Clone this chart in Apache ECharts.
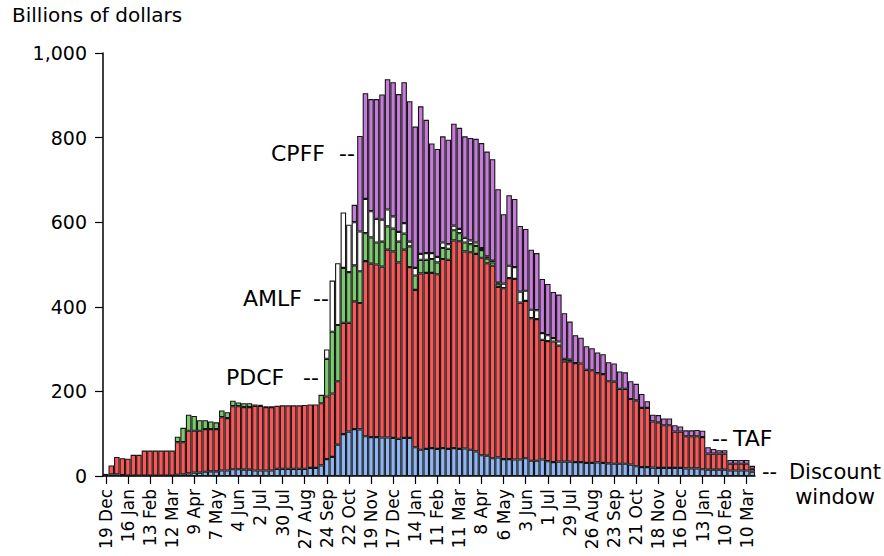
<!DOCTYPE html>
<html>
<head>
<meta charset="utf-8">
<script src="https://cdn.jsdelivr.net/npm/echarts@6/dist/echarts.min.js"></script>
<style>
html,body{margin:0;padding:0;background:#fff;}
#chart{width:884px;height:556px;}
</style>
</head>
<body>
<div id="chart"></div>
<script>
var categories = [
'19 Dec','26 Dec',
'2 Jan','9 Jan','16 Jan','23 Jan','30 Jan','6 Feb','13 Feb','20 Feb','27 Feb','5 Mar','12 Mar','19 Mar','26 Mar',
'2 Apr','9 Apr','16 Apr','23 Apr','30 Apr','7 May','14 May','21 May','28 May','4 Jun','11 Jun','18 Jun','25 Jun',
'2 Jul','9 Jul','16 Jul','23 Jul','30 Jul','6 Aug','13 Aug','20 Aug','27 Aug','3 Sep','10 Sep','17 Sep','24 Sep',
'1 Oct','8 Oct','15 Oct','22 Oct','29 Oct','5 Nov','12 Nov','19 Nov','26 Nov','3 Dec','10 Dec','17 Dec','24 Dec','31 Dec',
'7 Jan','14 Jan','21 Jan','28 Jan','4 Feb','11 Feb','18 Feb','25 Feb','4 Mar','11 Mar','18 Mar','25 Mar',
'1 Apr','8 Apr','15 Apr','22 Apr','29 Apr','6 May','13 May','20 May','27 May','3 Jun','10 Jun','17 Jun','24 Jun',
'1 Jul','8 Jul','15 Jul','22 Jul','29 Jul','5 Aug','12 Aug','19 Aug','26 Aug','2 Sep','9 Sep','16 Sep','23 Sep','30 Sep',
'7 Oct','14 Oct','21 Oct','28 Oct','4 Nov','11 Nov','18 Nov','25 Nov','2 Dec','9 Dec','16 Dec','23 Dec','30 Dec',
'6 Jan','13 Jan','20 Jan','27 Jan','3 Feb','10 Feb','17 Feb','24 Feb','3 Mar','10 Mar','17 Mar'
];

var discountWindow = [
5,4,4,2,1,1,1,1,1,1,1,1,1,3,4,6,8,8,10,11,11,13,13,16,16,15,15,13,13,13,13,17,17,17,17,17,17,19,19,25,
40,45,74,99,105,111,110,94,92,92,91,91,90,88,90,90,68,62,64,66,64,66,64,66,64,65,62,58,49,48,
42,44,40,40,39,39,42,36,36,39,35,33,34,34,34,33,33,31,31,32,31,30,29,29,29,27,23,21,21,20,
19,19,19,19,19,18,18,18,16,15,15,15,15,13,13,13,13,10
];

var taf = [
null,21,41,40,40,49,49,59,59,59,59,59,59,77,76,101,99,99,101,100,100,126,124,149,149,148,148,153,153,150,150,149,150,150,150,150,151,150,150,147,
148,150,150,263,257,302,299,414,410,408,404,444,441,417,445,404,372,417,416,414,413,447,447,491,491,466,467,467,467,455,
455,403,404,428,427,371,372,337,335,283,284,285,274,237,237,234,233,220,219,211,210,194,194,177,177,155,156,140,140,109,
108,101,101,86,86,76,76,76,76,38,38,38,38,16,16,16,16,7
];

var pdcf = [
null,null,null,null,null,null,null,null,null,null,null,null,null,13,34,38,35,25,21,18,16,16,14,13,9,9,9,3,2,1,1,null,null,null,null,null,null,null,null,20,
89,146,133,130,120,85,75,66,62,52,59,55,54,49,38,49,34,32,31,33,28,26,26,24,19,21,19,19,18,11,
8,8,null,null,null,null,null,null,null,null,null,null,null,null,null,null,null,null,null,null,null,null,null,null,null,null,null,null,null,null,
null,null,null,null,null,null,null,null,null,null,null,null,null,null,null,null,null,null
];

var amlf = [
null,null,null,null,null,null,null,null,null,null,null,null,null,null,null,null,null,null,null,null,null,null,null,null,null,null,null,null,null,null,null,null,null,null,null,null,null,null,null,null,
22,121,146,131,112,102,94,81,62,56,52,40,29,23,25,11,18,14,16,14,13,13,11,11,10,11,9,8,5,5,
4,2,11,29,28,26,24,20,21,16,14,8,10,6,4,null,null,null,null,null,null,null,null,null,null,null,null,null,null,null,
null,null,null,null,null,null,null,null,null,null,null,null,null,null,null,null,null,null
];

var cpff = [
null,null,null,null,null,null,null,null,null,null,null,null,null,null,null,null,null,null,null,null,null,null,null,null,null,null,null,null,null,null,null,null,null,null,null,null,null,null,null,null,
null,null,null,null,null,41,226,250,265,283,296,308,317,326,333,332,334,349,315,259,255,251,247,241,239,240,242,245,248,248,
240,221,164,167,161,155,146,142,135,128,121,109,111,108,90,66,61,56,52,49,47,45,43,41,39,42,39,33,16,16,
17,16,16,15,12,14,14,15,15,15,11,8,8,9,9,9,9,7
];

var yTicks = [0, 200, 400, 600, 800, 1000];

var FONT = 'DejaVu Sans';
var chart = echarts.init(document.getElementById('chart'), null, {renderer: 'svg'});

function barSeries(name, data, color) {
  return {
    name: name,
    type: 'bar',
    stack: 'total',
    data: data,
    barCategoryGap: '0%',
    itemStyle: {color: color, borderColor: '#151515', borderWidth: 1.1},
    emphasis: {disabled: true}
  };
}

function label(text, x, y, size, align) {
  return {type: 'text', x: x, y: y, silent: true,
    style: {text: text, font: size + 'px "DejaVu Sans"', fill: '#000',
      align: align || 'left', verticalAlign: 'middle'}};
}

var option = {
  animation: false,
  backgroundColor: '#fff',
  grid: {left: 103, top: 53, width: 652, height: 423, containLabel: false},
  xAxis: {
    type: 'category',
    data: categories,
    boundaryGap: true,
    axisLine: {show: true, lineStyle: {color: '#000', width: 1.5}},
    axisTick: {show: true, interval: 3, alignWithLabel: true, length: 8, lineStyle: {color: '#000', width: 1.2}},
    axisLabel: {interval: 3, rotate: 90, fontSize: 17, fontFamily: FONT, color: '#000', margin: 13}
  },
  yAxis: {
    type: 'value',
    min: yTicks[0],
    max: yTicks[yTicks.length - 1],
    interval: 200,
    axisLine: {show: true, lineStyle: {color: '#000', width: 1.5}},
    axisTick: {show: true, length: 8, lineStyle: {color: '#000', width: 1.2}},
    axisLabel: {fontSize: 19, fontFamily: FONT, color: '#000', margin: 16},
    splitLine: {show: false}
  },
  series: [
    barSeries('Discount window', discountWindow, '#8cb6f6'),
    barSeries('TAF', taf, '#fd5656'),
    barSeries('PDCF', pdcf, '#7acb6c'),
    barSeries('AMLF', amlf, '#ffffff'),
    barSeries('CPFF', cpff, '#c67bda')
  ],
  graphic: [
    {type: 'text', left: 12, top: 5, silent: true, style: {text: 'Billions of dollars', font: '20px "DejaVu Sans"', fill: '#000'}},
    label('CPFF', 271, 153, 22),
    label('--', 339, 153, 22),
    label('AMLF', 243, 298, 22),
    label('--', 313, 298, 22),
    label('PDCF', 226, 377, 22),
    label('--', 303, 377, 22),
    label('--', 712, 438, 22),
    label('TAF', 733, 438, 22),
    label('--', 762, 472, 21),
    label('Discount', 835, 472, 21, 'center'),
    label('window', 835, 497, 21, 'center')
  ]
};
chart.setOption(option);
</script>
</body>
</html>
